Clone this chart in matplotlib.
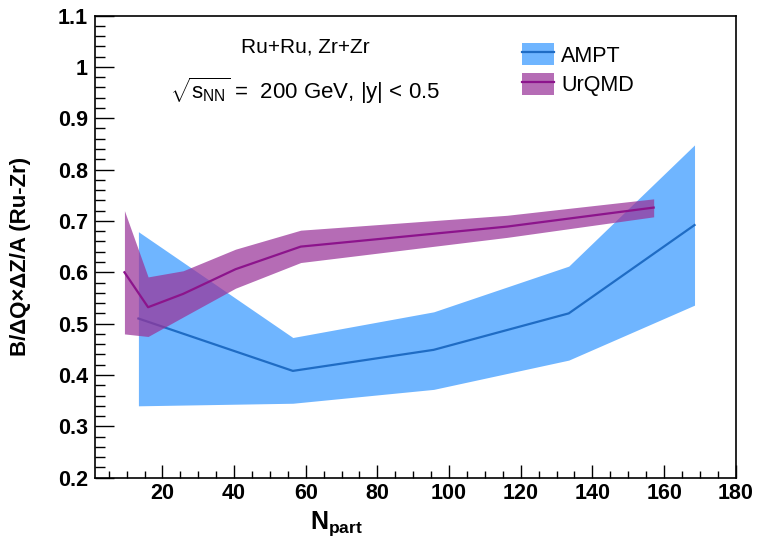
import matplotlib
matplotlib.use("Agg")
import matplotlib.pyplot as plt
from matplotlib.ticker import MultipleLocator, FixedLocator
from matplotlib.patches import Patch
from matplotlib.lines import Line2D
from matplotlib.legend_handler import HandlerTuple

plt.rcParams['font.family'] = ['Liberation Sans', 'DejaVu Sans']
plt.rcParams['mathtext.fontset'] = 'custom'
plt.rcParams['mathtext.rm'] = 'Liberation Sans'
plt.rcParams['mathtext.it'] = 'Liberation Sans'
plt.rcParams['mathtext.bf'] = 'Liberation Sans:bold'

# AMPT
ampt_x = [13.3, 56.4, 95.7, 133.4, 168.5]
ampt_y = [0.510, 0.408, 0.449, 0.520, 0.692]
ampt_hi = [0.679, 0.473, 0.523, 0.612, 0.848]
ampt_lo = [0.340, 0.345, 0.372, 0.429, 0.536]

# UrQMD
urqmd_x = [9.4, 16.0, 25.8, 40.4, 58.6, 116.2, 157.1]
urqmd_y = [0.600, 0.532, 0.558, 0.606, 0.650, 0.689, 0.726]
urqmd_hi = [0.720, 0.591, 0.603, 0.645, 0.682, 0.711, 0.743]
urqmd_lo = [0.480, 0.475, 0.513, 0.569, 0.619, 0.668, 0.708]

x_ticks = [20, 40, 60, 80, 100, 120, 140, 160, 180]
y_ticks = [0.2, 0.3, 0.4, 0.5, 0.6, 0.7, 0.8, 0.9, 1.0, 1.1]
y_ticklabels = ["0.2", "0.3", "0.4", "0.5", "0.6", "0.7", "0.8", "0.9", "1", "1.1"]

ampt_fill = '#6fb5ff'
ampt_line = '#1f6cc4'
urqmd_fill = (153/255, 51/255, 153/255, 0.72)
urqmd_line = '#8c148c'

fig = plt.figure(figsize=(7.57, 5.42), dpi=100)
ax = fig.add_axes([0.1251, 0.1186, 0.9719 - 0.1251, 0.9714 - 0.1186])

ax.fill_between(ampt_x, ampt_lo, ampt_hi, color=ampt_fill, linewidth=0, zorder=1)
ax.plot(ampt_x, ampt_y, color=ampt_line, linewidth=1.6, zorder=2)
ax.fill_between(urqmd_x, urqmd_lo, urqmd_hi, color=urqmd_fill, linewidth=0, zorder=3)
ax.plot(urqmd_x, urqmd_y, color=urqmd_line, linewidth=1.6, zorder=4)

ax.set_xlim(1.1, 180)
ax.set_ylim(0.2, 1.1)

ax.xaxis.set_major_locator(FixedLocator(x_ticks))
ax.xaxis.set_minor_locator(MultipleLocator(5))
ax.yaxis.set_major_locator(FixedLocator(y_ticks))
ax.set_yticklabels(y_ticklabels)
ax.yaxis.set_minor_locator(MultipleLocator(0.02))

ax.tick_params(axis='both', which='both', direction='in', top=False, right=False,
               width=1.0, color='black')
ax.tick_params(axis='y', which='major', length=13.5, pad=5)
ax.tick_params(axis='y', which='minor', length=7)
ax.tick_params(axis='x', which='major', length=9.5, pad=4)
ax.tick_params(axis='x', which='minor', length=5)
for lab in ax.get_xticklabels() + ax.get_yticklabels():
    lab.set_fontsize(15.5)
    lab.set_fontweight('bold')

for s in ax.spines.values():
    s.set_linewidth(1.2)

ax.set_xlabel(r"$\mathbf{N}_{\mathbf{part}}$", fontsize=18)
ax.xaxis.set_label_coords(0.378, -0.068)
ax.set_ylabel("B/ΔQ×ΔZ/A (Ru-Zr)", fontsize=16, fontweight='bold')
ax.yaxis.set_label_coords(-0.099, 0.4786)

ax.text(0.328, 0.932, "Ru+Ru, Zr+Zr", transform=ax.transAxes, fontsize=15,
        ha='center', va='center')
ax.text(0.117, 0.838, r"$\sqrt{s_{\rm NN}}$ =  200 GeV, |y| < 0.5", transform=ax.transAxes,
        fontsize=16, ha='left', va='center')

h1 = (Patch(facecolor=ampt_fill, edgecolor='none'), Line2D([], [], color=ampt_line, lw=1.6))
h2 = (Patch(facecolor=urqmd_fill, edgecolor='none'), Line2D([], [], color=urqmd_line, lw=1.6))
leg = ax.legend([h1, h2], ["AMPT", "UrQMD"], handler_map={tuple: HandlerTuple(ndivide=1)},
                loc='upper left', bbox_to_anchor=(0.666, 0.94), frameon=False,
                fontsize=15.5, handlelength=1.5, handleheight=1.2, handletextpad=0.33,
                labelspacing=0.3, borderaxespad=0, borderpad=0)

fig.savefig("out.png", dpi=100)
